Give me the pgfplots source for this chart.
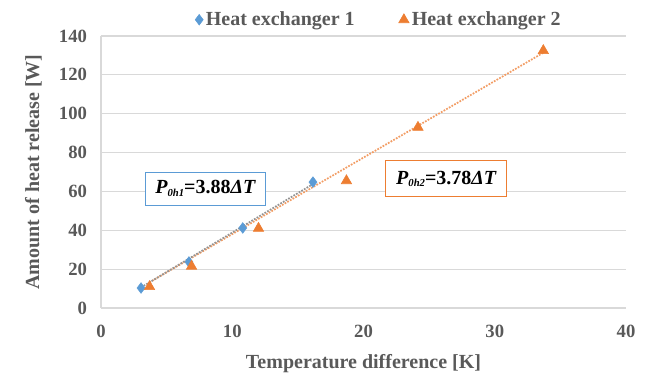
\documentclass[border=0pt]{standalone}
\usepackage{pgfplots}
\pgfplotsset{compat=1.18}
\usepackage{fontspec}
\setmainfont{Liberation Serif}
\definecolor{hblue}{HTML}{5B9BD5}
\definecolor{horange}{HTML}{ED7D31}
\definecolor{tgray}{HTML}{595959}
\definecolor{ggray}{HTML}{D9D9D9}
\newcommand{\sub}[1]{\raisebox{-0.25ex}{\fontsize{8}{9}\selectfont\bfseries\itshape #1}}
\begin{document}
\begin{tikzpicture}[x=1pt,y=1pt]
\begin{axis}[
  scale only axis,
  width=393.75pt, height=204pt,
  xmin=0, xmax=40, ymin=0, ymax=140,
  xtick={0,10,...,40}, ytick={0,20,...,140},
  major tick length=0pt,
  ymajorgrids, grid style={ggray, line width=0.8pt},
  axis line style={ggray, line width=0.8pt},
  axis x line*=bottom, axis y line*=left,
  /pgf/number format/assume math mode=true,
  ticklabel style={font=\fontsize{14}{16}\selectfont\bfseries, text=tgray},
  xticklabel style={yshift=-9pt},
  yticklabel style={xshift=-7pt},
  xlabel={Temperature difference [K]},
  ylabel={Amount of heat release [W]},
  label style={font=\fontsize{15}{17}\selectfont\bfseries, text=tgray},
  xlabel style={yshift=-6pt},
  ylabel style={yshift=6pt},
  legend style={draw=none, fill=none, at={(0.53,1.01)}, anchor=south, legend columns=2,
    font=\fontsize{15}{17}\selectfont\bfseries, text=tgray,
    /tikz/every even column/.append style={column sep=31pt}},
  legend image code/.code={\draw[#1] plot coordinates {(0.1cm,0cm)};},
]
\addplot[only marks, mark=diamond*, mark size=4pt, color=hblue] coordinates {
 (3.05,10.3) (6.7,23.7) (10.8,41.2) (16.15,64.8)};
\addlegendentry{Heat exchanger 1}
\addplot[only marks, mark=triangle*, mark size=4.5pt, color=horange] coordinates {
 (3.7,11.0) (6.9,21.5) (12.0,41.0) (18.7,65.5) (24.15,93.0) (33.7,132.5)};
\addlegendentry{Heat exchanger 2}
\addplot[forget plot, densely dotted, line width=1.3pt, color=horange!75] coordinates {(3.7,13.2) (33.8,131.8)};
\addplot[forget plot, densely dotted, line width=1.3pt, color=gray!85] coordinates {(3.05,10.6) (16.15,63.8)};
\draw[hblue, fill=white, line width=0.7pt] (axis cs:3.35,53) rectangle (axis cs:12.5,70);
\node[font=\fontsize{15}{17}\selectfont] at (axis cs:7.95,61.5) {{\bfseries\itshape P}\sub{0h1}\textbf{=3.88}{\bfseries\itshape ΔT}};
\draw[horange, fill=white, line width=0.7pt] (axis cs:21.7,57.6) rectangle (axis cs:30.9,75.7);
\node[font=\fontsize{15}{17}\selectfont] at (axis cs:26.3,66.6) {{\bfseries\itshape P}\sub{0h2}\textbf{=3.78}{\bfseries\itshape ΔT}};
\end{axis}
\pgfresetboundingbox
\path[use as bounding box] (current axis.south west) ++(-101*0.75pt,-71*0.75pt) rectangle ++(652*0.75pt,379*0.75pt);
\end{tikzpicture}
\end{document}
